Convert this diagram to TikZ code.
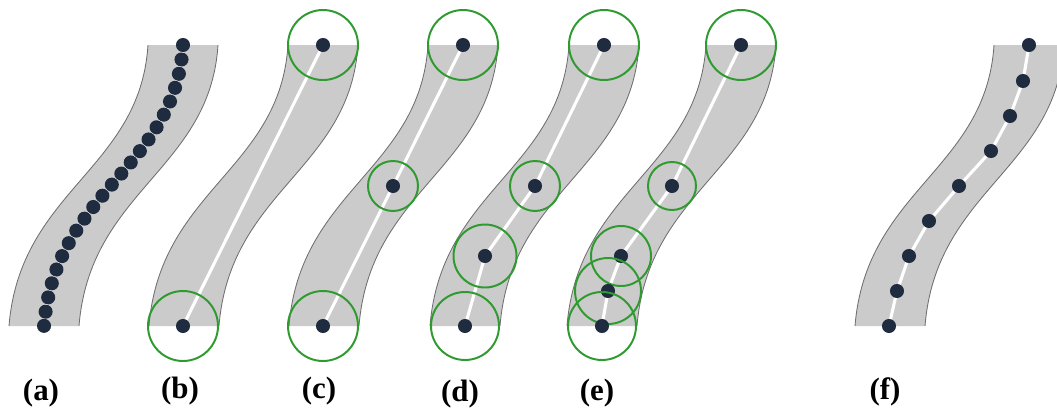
\documentclass[tikz,border=0pt]{standalone}
\usepackage{fontspec}
\setmainfont{Liberation Serif}
\usetikzlibrary{decorations.markings}
\definecolor{roadgray}{HTML}{CBCBCB}
\definecolor{edgegray}{HTML}{6E6E6E}
\definecolor{navy}{HTML}{1F2B3F}
\definecolor{ballgreen}{HTML}{2F9A2F}
\tikzset{
  road/.style={fill=roadgray, draw=none},
  roadedge/.style={draw=edgegray, line width=0.6pt},
  pathline/.style={draw=white, line width=2.2pt},
  waypt/.style={circle, fill=navy, inner sep=0pt, minimum size=10pt},
  ball/.style={draw=ballgreen, line width=1.4pt},
  tag/.style={font=\fontsize{22}{22}\selectfont\bfseries, inner sep=0pt},
}
\newcommand\roadband{%
  \fill[road] (148,45) -- (218,45) .. controls (210,170) and (90,190) .. (79,326)
    -- (9,326) .. controls (20,190) and (140,170) .. (148,45) -- cycle;
  \draw[roadedge] (148,45) .. controls (140,170) and (20,190) .. (9,326);
  \draw[roadedge] (218,45) .. controls (210,170) and (90,190) .. (79,326);
}

\begin{document}
\begin{tikzpicture}[x=0.025cm, y=-0.025cm]
  \useasboundingbox (0,0) rectangle (1057,408);
  % (a) dense samples
  \begin{scope}
    \roadband
    \draw[pathline, postaction={decorate, decoration={markings,
        mark=between positions 0 and 0.99 step 0.04545 with
        {\node[waypt] (a\pgfkeysvalueof{/pgf/decoration/mark info/sequence number}) {};},
        mark=at position 0.999 with {\node[waypt] (aend) {};}}}]
      (183,45) .. controls (175,170) and (55,190) .. (44,326);
  \end{scope}
  % (b)
  \begin{scope}[shift={(140,0)}]
    \roadband
    \coordinate (b1) at (183,45);
    \coordinate (b2) at (43,326);
    \draw[pathline] (b1) -- (b2);
    \node[waypt] (bp1) at (b1) {};
    \node[waypt] (bp2) at (b2) {};
    \draw[ball] (b1) circle (35);
    \draw[ball] (b2) circle (35);
  \end{scope}
  % (c)
  \begin{scope}[shift={(280,0)}]
    \roadband
    \coordinate (c1) at (183,45);
    \coordinate (c2) at (113,186);
    \coordinate (c3) at (43,326);
    \draw[pathline] (c1) -- (c2) -- (c3);
    \foreach \i/\r in {1/35, 2/25, 3/35} {
      \node[waypt] (cp\i) at (c\i) {};
      \draw[ball] (c\i) circle (\r);
    }
  \end{scope}
  % (d)
  \begin{scope}[shift={(421,0)}]
    \roadband
    \coordinate (d1) at (183,45);
    \coordinate (d2) at (114,186);
    \coordinate (d3) at (64,256);
    \coordinate (d4) at (44,326);
    \draw[pathline] (d1) -- (d2) -- (d3) -- (d4);
    \foreach \i/\r in {1/35, 2/25, 3/31.5, 4/34} {
      \node[waypt] (dp\i) at (d\i) {};
      \draw[ball] (d\i) circle (\r);
    }
  \end{scope}
  % (e)
  \begin{scope}[shift={(558,0)}]
    \roadband
    \coordinate (e1) at (183,45);
    \coordinate (e2) at (114,186);
    \coordinate (e3) at (63,256);
    \coordinate (e4) at (50,291);
    \coordinate (e5) at (44,326);
    \draw[pathline] (e1) -- (e2) -- (e3) -- (e4) -- (e5);
    \foreach \i/\r in {1/35, 2/24, 3/30, 4/33, 5/34} {
      \node[waypt] (ep\i) at (e\i) {};
      \draw[ball] (e\i) circle (\r);
    }
  \end{scope}
  % (f) resampled
  \begin{scope}[shift={(846,0)}]
    \roadband
    \foreach \i/\px/\py in {1/183/45, 2/177/81, 3/164/116, 4/145/151, 5/113/186,
                            6/83/221, 7/63/256, 8/51/291, 9/43/326}
      \coordinate (f\i) at (\px,\py);
    \draw[pathline] (f1) -- (f2) -- (f3) -- (f4) -- (f5) -- (f6) -- (f7) -- (f8) -- (f9);
    \foreach \i in {1,...,9}
      \node[waypt] (fp\i) at (f\i) {};
  \end{scope}
  \node[tag] (la) at (41,393) {(a)};
  \node[tag] (lb) at (180,391) {(b)};
  \node[tag] (lc) at (319,391) {(c)};
  \node[tag] (ld) at (460,394) {(d)};
  \node[tag] (le) at (597,393) {(e)};
  \node[tag] (lf) at (885,392) {(f)};
\end{tikzpicture}
\end{document}
